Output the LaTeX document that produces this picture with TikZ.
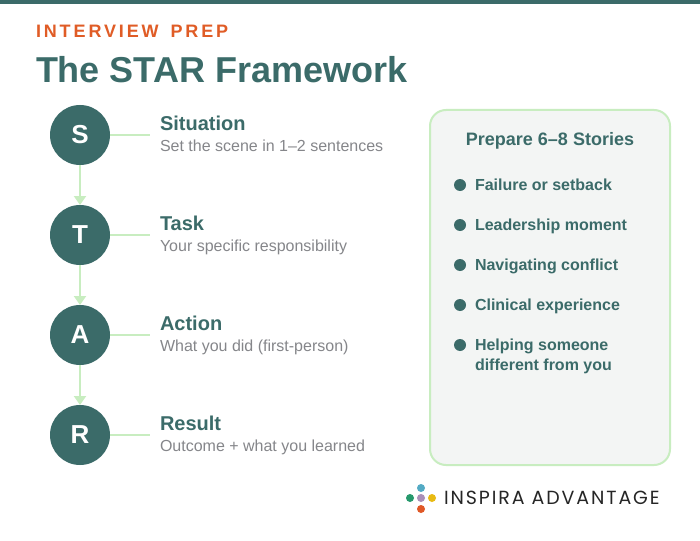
\documentclass[tikz,border=0pt]{standalone}
\usepackage{fontspec}
\setmainfont{Liberation Sans}
\newfontfamily\kickerfont[LetterSpace=16,WordSpace=1.5]{Liberation Sans}
\newfontfamily\logofont[LetterSpace=10]{Poppins}
\usetikzlibrary{arrows.meta}
\definecolor{teal}{HTML}{3B6B69}
\definecolor{mint}{HTML}{C8EDC0}
\definecolor{rust}{HTML}{E05C26}
\definecolor{muted}{HTML}{85868A}
\definecolor{panelbg}{HTML}{F3F5F4}
\begin{document}
\begin{tikzpicture}[x=1pt, y=-1pt, every node/.style = {inner sep=0pt, outer sep=0pt}]
	\tikzstyle{letter} = [shape=circle, fill=teal, text=white, minimum size=60pt, font=\fontsize{26}{26}\selectfont\bfseries]
	\tikzstyle{head} = [anchor=base west, text=teal, font=\fontsize{20}{24}\selectfont\bfseries]
	\tikzstyle{sub} = [anchor=base west, text=muted, font=\fontsize{16}{20}\selectfont]
	\tikzstyle{item} = [anchor=base west, align=left, text=teal, font=\fontsize{16}{20}\selectfont\bfseries]
	\tikzstyle{dot} = [shape=circle, fill=teal, minimum size=12pt]
	\tikzstyle{petal} = [shape=circle, minimum size=8pt]
	\tikzstyle{flow} = [draw=mint, line width=2pt, -{Triangle[length=9pt, width=12pt]}]
	\tikzstyle{tie} = [draw=mint, line width=2pt]
	\useasboundingbox (0,0) rectangle (700,540);
	\fill[white] (0,0) rectangle (700,540);
	\fill[teal] (0,0) rectangle (700,4);
	\node[anchor=base west, text=rust, font=\fontsize{18}{22}\selectfont\kickerfont\bfseries] (kicker) at (36,38) {INTERVIEW PREP};
	\node[anchor=base west, text=teal, font=\fontsize{36}{40}\selectfont\bfseries] (title) at (36,83) {The STAR Framework};
	% steps
	\node[letter] (s) at (80,135) {S};
	\node[letter] (t) at (80,235) {T};
	\node[letter] (a) at (80,335) {A};
	\node[letter] (r) at (80,435) {R};
	\draw[flow] (s) -- (t);
	\draw[flow] (t) -- (a);
	\draw[flow] (a) -- (r);
	\coordinate (send) at (150,135);
	\coordinate (tend) at (150,235);
	\coordinate (aend) at (150,335);
	\coordinate (rend) at (150,435);
	\draw[tie] (s) -- (send);
	\draw[tie] (t) -- (tend);
	\draw[tie] (a) -- (aend);
	\draw[tie] (r) -- (rend);
	\node[head] (shead) at (160,130.4) {Situation};
	\node[sub] (ssub) at (160,151.7) {Set the scene in 1–2 sentences};
	\node[head] (thead) at (160,230) {Task};
	\node[sub] (tsub) at (160,251.7) {Your specific responsibility};
	\node[head] (ahead) at (160,330) {Action};
	\node[sub] (asub) at (160,351.7) {What you did (first-person)};
	\node[head] (rhead) at (160,430) {Result};
	\node[sub] (rsub) at (160,451.7) {Outcome + what you learned};
	% panel
	\node[draw=mint, fill=panelbg, line width=2pt, rounded corners=16pt, minimum width=240pt, minimum height=355pt] (panel) at (550,287.5) {};
	\node[anchor=base, text=teal, font=\fontsize{18}{22}\selectfont\bfseries] (ptitle) at (550,145.4) {Prepare 6–8 Stories};
	\node[dot] (d1) at (460,185) {};
	\node[dot] (d2) at (460,225) {};
	\node[dot] (d3) at (460,265) {};
	\node[dot] (d4) at (460,305) {};
	\node[dot] (d5) at (460,345) {};
	\node[item] (i1) at (475,190) {Failure or setback};
	\node[item] (i2) at (475,230) {Leadership moment};
	\node[item] (i3) at (475,270) {Navigating conflict};
	\node[item] (i4) at (475,310) {Clinical experience};
	\node[item] (i5) at (475,370) {Helping someone\\different from you};
	% logo
	\node[petal, fill={rgb,255:red,170;green,143;blue,184}] (pm) at (421,498) {};
	\node[petal, fill={rgb,255:red,83;green,170;blue,196}] (pt) at (421,488) {};
	\node[petal, fill={rgb,255:red,38;green,153;blue,108}] (pl) at (410,498) {};
	\node[petal, fill={rgb,255:red,232;green,186;blue,18}] (pr) at (432,498) {};
	\node[petal, fill={rgb,255:red,224;green,88;blue,38}] (pb) at (421,509) {};
	\node[anchor=base west, text=black!85, font=\fontsize{19}{20}\selectfont\logofont] (logo) at (444,504.5) {INSPIRA ADVANTAGE};
\end{tikzpicture}
\end{document}
